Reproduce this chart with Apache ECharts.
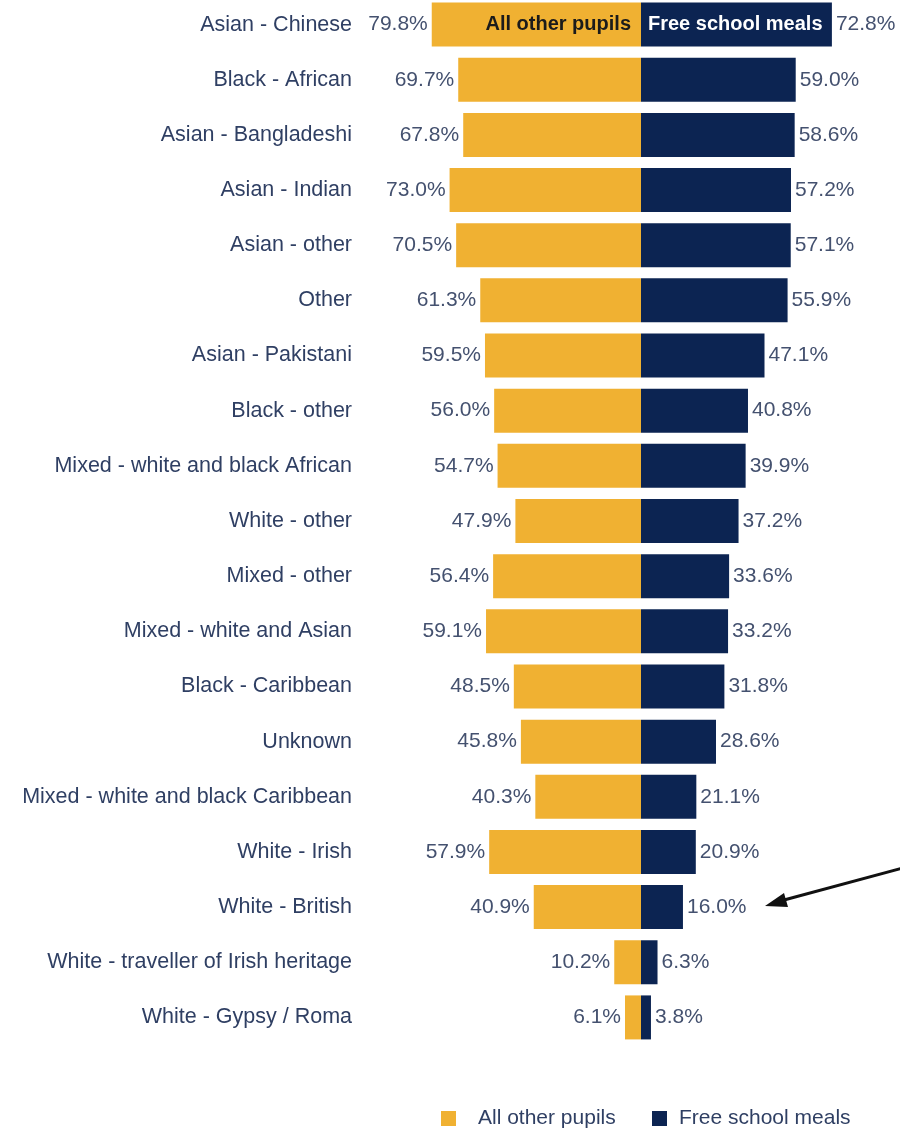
<!DOCTYPE html>
<html>
<head>
<meta charset="utf-8">
<script src="https://cdn.jsdelivr.net/npm/echarts@6/dist/echarts.min.js"></script>
<style>html,body{margin:0;padding:0;background:#fff}#c{width:900px;height:1132px}</style>
</head>
<body>
<div id="c"></div>
<script>
const categories = [
  "Asian - Chinese", "Black - African", "Asian - Bangladeshi", "Asian - Indian",
  "Asian - other", "Other", "Asian - Pakistani", "Black - other",
  "Mixed - white and black African", "White - other", "Mixed - other",
  "Mixed - white and Asian", "Black - Caribbean", "Unknown",
  "Mixed - white and black Caribbean", "White - Irish", "White - British",
  "White - traveller of Irish heritage", "White - Gypsy / Roma"
];
const allOtherPupils = [79.8, 69.7, 67.8, 73.0, 70.5, 61.3, 59.5, 56.0, 54.7, 47.9, 56.4, 59.1, 48.5, 45.8, 40.3, 57.9, 40.9, 10.2, 6.1];
const freeSchoolMeals = [72.8, 59.0, 58.6, 57.2, 57.1, 55.9, 47.1, 40.8, 39.9, 37.2, 33.6, 33.2, 31.8, 28.6, 21.1, 20.9, 16.0, 6.3, 3.8];
const seriesNames = ["All other pupils", "Free school meals"];

const YELLOW = '#F0B132';
const NAVY = '#0C2452';
const VALFONT = "'Liberation Sans Narrow', 'Liberation Sans', Arial, sans-serif";
const FONT = "'Liberation Sans', Arial, sans-serif";

const chart = echarts.init(document.getElementById('c'));
const fmt = p => Math.abs(p.value).toFixed(1) + '%';
const onlyFirst = arr => arr.map((v, i) => i === 0 ? v : '-');

const legendBase = {
  top: 1103, itemWidth: 15, itemHeight: 15, icon: 'rect'
};

chart.setOption({
  animation: false,
  textStyle: { fontFamily: FONT },
  grid: { left: 405, width: 472, top: -3, height: 1048, containLabel: false, outerBoundsMode: 'none' },
  xAxis: { type: 'value', min: -90, max: 90, show: false },
  yAxis: {
    type: 'category', data: categories, inverse: true,
    axisLine: { show: false }, axisTick: { show: false }, splitLine: { show: false },
    axisLabel: { margin: 53, fontSize: 21.5, color: '#2f3f63', fontFamily: FONT }
  },
  legend: [
    Object.assign({}, legendBase, {
      data: [seriesNames[0]], left: 436,
      textStyle: { fontSize: 21, color: '#2f3f63', fontFamily: FONT, padding: [0, 0, 0, 17] }
    }),
    Object.assign({}, legendBase, {
      data: [seriesNames[1]], left: 647,
      textStyle: { fontSize: 21, color: '#2f3f63', fontFamily: FONT, padding: [0, 0, 0, 7] }
    })
  ],
  series: [
    {
      name: seriesNames[0], type: 'bar', barWidth: 44, barGap: '-100%',
      data: allOtherPupils.map(v => -v),
      itemStyle: { color: YELLOW },
      label: { show: true, position: 'left', distance: 4, formatter: fmt, fontSize: 21, color: '#44516f', fontFamily: VALFONT }
    },
    {
      name: seriesNames[1], type: 'bar', barWidth: 44, barGap: '-100%',
      data: freeSchoolMeals,
      itemStyle: { color: NAVY },
      label: { show: true, position: 'right', distance: 4, formatter: fmt, fontSize: 21, color: '#44516f', fontFamily: VALFONT }
    },
    {
      name: 'inL', type: 'bar', barWidth: 44, barGap: '-100%', silent: true,
      data: onlyFirst(allOtherPupils.map(v => -v)),
      itemStyle: { color: 'rgba(0,0,0,0)' },
      label: { show: true, position: 'insideRight', distance: 10, formatter: seriesNames[0], fontSize: 20, fontWeight: 'bold', color: '#1b1b1b', fontFamily: FONT }
    },
    {
      name: 'inR', type: 'bar', barWidth: 44, barGap: '-100%', silent: true,
      data: onlyFirst(freeSchoolMeals),
      itemStyle: { color: 'rgba(0,0,0,0)' },
      label: { show: true, position: 'insideLeft', distance: 7, formatter: seriesNames[1], fontSize: 20, fontWeight: 'bold', color: '#ffffff', fontFamily: FONT }
    }
  ],
  graphic: [
    { type: 'line', shape: { x1: 903, y1: 868, x2: 784, y2: 900 }, style: { stroke: '#111', lineWidth: 3 } },
    { type: 'polygon', shape: { points: [[765, 906], [788, 907], [784, 893]] }, style: { fill: '#111' } }
  ]
});
</script>
</body>
</html>
